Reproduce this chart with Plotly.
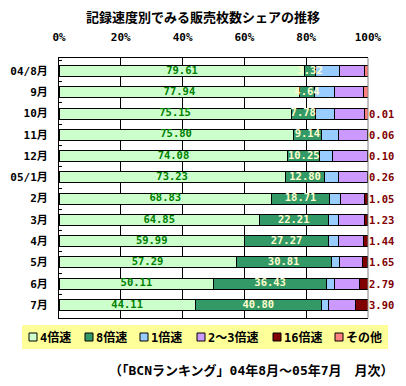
import plotly.graph_objects as go

categories = ["04/8月", "9月", "10月", "11月", "12月", "05/1月", "2月", "3月", "4月", "5月", "6月", "7月"]
speed_4x = [79.61, 77.94, 75.15, 75.80, 74.08, 73.23, 68.83, 64.85, 59.99, 57.29, 50.11, 44.11]
speed_8x = [3.32, 4.64, 7.78, 9.14, 10.25, 12.80, 18.71, 22.21, 27.27, 30.81, 36.43, 40.80]
speed_1x = [7.8, 6.5, 6.1, 5.4, 4.3, 4.5, 3.6, 3.5, 3.1, 2.7, 2.7, 2.3]
speed_23x = [8.1, 9.4, 9.96, 9.5, 11.2, 9.2, 7.8, 8.2, 8.2, 7.5, 7.97, 8.89]
speed_16x = [0, 0, 0.01, 0.06, 0.10, 0.26, 1.05, 1.23, 1.44, 1.65, 2.79, 3.90]
speed_other = [1.17, 1.52, 1.0, 0.1, 0.07, 0.01, 0.01, 0.01, 0.0, 0.05, 0.0, 0.0]

series_names = ["4倍速", "8倍速", "1倍速", "2～3倍速", "16倍速", "その他"]
series_colors = ["#CCFFCC", "#339966", "#99CCFF", "#CC99FF", "#800000", "#FF8080"]
series_values = [speed_4x, speed_8x, speed_1x, speed_23x, speed_16x, speed_other]

x_ticks = [0, 20, 40, 60, 80, 100]
x_tick_labels = ["0%", "20%", "40%", "60%", "80%", "100%"]

MONO = "DejaVu Sans Mono, Noto Sans CJK JP"
CJK = "Noto Sans CJK JP, DejaVu Sans"

# The page body has an 8px margin, so the figure starts at screen (8, 8).
OFF = 8
W, H = 406 - OFF, 386 - OFF
# plot-area geometry in screen pixels
L, R, T, B = 59, 368, 58, 318


def px_x(px):
    return (px - L) / (R - L)


def px_y(py):
    return (B - py) / (B - T)


fig = go.Figure()
for name, color, vals in zip(series_names, series_colors, series_values):
    fig.add_trace(go.Bar(
        y=categories, x=vals, name=name, orientation="h",
        marker=dict(color=color, line=dict(color="black", width=1)),
        showlegend=False, hoverinfo="x+name",
    ))

# data labels
fig.add_trace(go.Scatter(
    y=categories, x=[v / 2 for v in speed_4x], mode="text",
    text=[f"{v:.2f}" for v in speed_4x],
    textfont=dict(family=MONO, size=10.5, color="#008000", weight="bold"),
    showlegend=False, hoverinfo="skip", cliponaxis=False,
))
fig.add_trace(go.Scatter(
    y=categories, x=[a + b / 2 for a, b in zip(speed_4x, speed_8x)], mode="text",
    text=[f"{v:.2f}" for v in speed_8x],
    textfont=dict(family=MONO, size=10.5, color="#FFFFCC", weight="bold"),
    showlegend=False, hoverinfo="skip", cliponaxis=False,
))

totals = [sum(s[i] for s in series_values) for i in range(len(categories))]
for cat, tot, v in zip(categories, totals, speed_16x):
    if v > 0:
        fig.add_annotation(x=tot, y=cat, xref="x", yref="y", text=f"{v:.2f}",
                           showarrow=False, xanchor="left", yanchor="middle", xshift=-1,
                           font=dict(family=MONO, size=10.5, color="#800000", weight="bold"))

# right border (grey)
fig.add_shape(type="line", xref="paper", yref="paper", x0=1, x1=1, y0=0, y1=1,
              line=dict(color="#808080", width=1))

# manual legend
fig.add_shape(type="rect", xref="paper", yref="paper",
              x0=px_x(22), x1=px_x(388), y0=px_y(349), y1=px_y(325),
              fillcolor="#FFFF99", line=dict(width=0), layer="below")
legend_sq_x = [29, 85, 140, 197, 273, 335]
for sx, name, color in zip(legend_sq_x, series_names, series_colors):
    fig.add_shape(type="rect", xref="paper", yref="paper",
                  x0=px_x(sx), x1=px_x(sx + 8), y0=px_y(341), y1=px_y(333),
                  fillcolor=color, line=dict(color="black", width=1))
    fig.add_annotation(x=px_x(sx + 9), y=px_y(337), xref="paper", yref="paper",
                       text=name, showarrow=False, xanchor="left", yanchor="middle",
                       font=dict(family=MONO, size=12, color="black", weight="bold"))

# footer
fig.add_annotation(x=px_x(396), y=px_y(370), xref="paper", yref="paper",
                   text="（「BCNランキング」04年8月～05年7月　月次）", showarrow=False,
                   xanchor="right", yanchor="middle",
                   font=dict(family=MONO, size=13, color="black", weight="bold"))

fig.update_layout(
    width=W, height=H,
    margin=dict(l=L - OFF, r=406 - R, t=T - OFF, b=386 - B, pad=0),
    barmode="stack", bargap=0.48,
    paper_bgcolor="white", plot_bgcolor="white",
    title=dict(text="記録速度別でみる販売枚数シェアの推移", x=px_x(203), xref="paper",
               xanchor="center", y=1 - (17 - OFF) / H, yanchor="middle",
               font=dict(family=CJK, size=13, color="black", weight="bold")),
    xaxis=dict(range=[0, 100], side="top", tickvals=x_ticks, ticktext=x_tick_labels,
               showgrid=True, gridcolor="black", gridwidth=1, zeroline=False,
               showline=True, linecolor="black", linewidth=1, mirror=True,
               ticks="", ticklabelstandoff=12, automargin=False,
               tickfont=dict(family=MONO, size=11, color="black", weight="bold")),
    yaxis=dict(categoryorder="array", categoryarray=categories, autorange="reversed",
               showline=True, linecolor="black", linewidth=1, showgrid=False,
               ticks="inside", tickson="boundaries", ticklen=3, tickcolor="black",
               ticklabelstandoff=8, automargin=False,
               tickfont=dict(family=MONO, size=11, color="black", weight="bold")),
)

fig.write_html("out.html")
